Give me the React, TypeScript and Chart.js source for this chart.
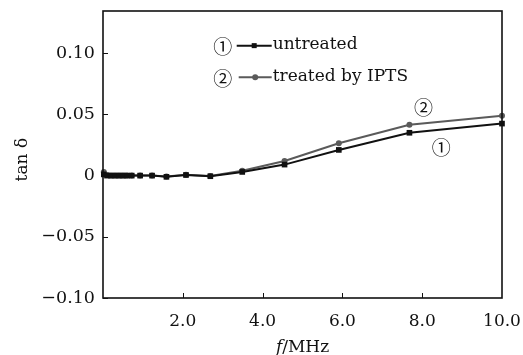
import React, { useEffect, useRef } from "react";
import { Chart, registerables } from "chart.js";

Chart.register(...registerables);

const freqs = [0.02, 0.1, 0.2, 0.3, 0.4, 0.5, 0.6, 0.72, 0.93, 1.23, 1.59, 2.08, 2.69, 3.49, 4.55, 5.91, 7.68, 10.0];
const untreated = [0.001, 0, 0, 0, 0, 0, 0, 0, 0, 0, -0.001, 0.0005, -0.0005, 0.003, 0.009, 0.021, 0.035, 0.0425];
const treated = [0.003, 0.0005, 0, 0, 0, 0, 0, 0, 0, 0, -0.0008, 0.0008, -0.0003, 0.004, 0.012, 0.0265, 0.0415, 0.049];
const xTicks = [2, 4, 6, 8, 10];
const yTicks = [-0.1, -0.05, 0, 0.05, 0.1];
const seriesNames = ["untreated", "treated by IPTS"];
const seriesMarks = ["①", "②"];

const FONT = "'DejaVu Serif', 'Liberation Serif', serif";
const CIRC_FONT = "'Noto Sans CJK SC', 'DejaVu Sans', serif";
const C1 = "#111111";
const C2 = "#5a5a5a";

const fmtY = (v: number) => {
  if (Math.abs(v) < 1e-9) return "0";
  const s = Math.abs(v).toFixed(2);
  return v < 0 ? "\u2212" + s : s;
};

const decorPlugin = {
  id: "decor",
  afterDraw(chart: any) {
    const { ctx, chartArea: a, scales } = chart;
    const xs = scales.x;
    const ys = scales.y;
    ctx.save();
    // frame
    ctx.strokeStyle = "#111";
    ctx.lineWidth = 1.6;
    ctx.strokeRect(a.left, a.top, a.right - a.left, a.bottom - a.top);
    // inside ticks
    ctx.lineWidth = 1;
    ctx.beginPath();
    yTicks.forEach((v) => {
      const y = Math.round(ys.getPixelForValue(v)) + 0.5;
      ctx.moveTo(a.left, y);
      ctx.lineTo(a.left + 5, y);
    });
    xTicks.forEach((v) => {
      if (v >= 10) return;
      const x = Math.round(xs.getPixelForValue(v)) + 0.5;
      ctx.moveTo(x, a.bottom);
      ctx.lineTo(x, a.bottom - 5);
    });
    ctx.stroke();

    // legend
    const rows = [
      { y: ys.getPixelForValue(0.1062), color: C1, style: "rect" },
      { y: ys.getPixelForValue(0.0803), color: C2, style: "circle" },
    ];
    const lx = xs.getPixelForValue(3.0);
    rows.forEach((r, i) => {
      ctx.fillStyle = "#111";
      ctx.font = `19px ${CIRC_FONT}`;
      ctx.textBaseline = "middle";
      ctx.textAlign = "center";
      ctx.fillText(seriesMarks[i], lx, r.y + 1);
      const l0 = lx + 14 + (i === 1 ? 2 : 0);
      const l1 = lx + 49;
      ctx.strokeStyle = r.color;
      ctx.lineWidth = 2;
      ctx.beginPath();
      ctx.moveTo(l0, r.y);
      ctx.lineTo(l1, r.y);
      ctx.stroke();
      ctx.fillStyle = r.color;
      const mx = (l0 + l1) / 2;
      if (r.style === "rect") {
        ctx.fillRect(mx - 2.5, r.y - 2.5, 5, 5);
      } else {
        ctx.beginPath();
        ctx.arc(mx, r.y, 3, 0, Math.PI * 2);
        ctx.fill();
      }
      ctx.fillStyle = "#111";
      ctx.font = `17px ${FONT}`;
      ctx.textAlign = "left";
      ctx.fillText(seriesNames[i], l1 + 1, r.y - 1);
    });

    // curve annotations
    ctx.font = `19px ${CIRC_FONT}`;
    ctx.textAlign = "center";
    ctx.textBaseline = "middle";
    ctx.fillStyle = "#111";
    ctx.fillText(seriesMarks[1], xs.getPixelForValue(8.03), ys.getPixelForValue(0.0564) + 1);
    ctx.fillText(seriesMarks[0], xs.getPixelForValue(8.48), ys.getPixelForValue(0.0237) + 1);

    // axis titles
    ctx.textBaseline = "alphabetic";
    ctx.font = `italic 17px ${FONT}`;
    const w1 = ctx.measureText("f").width;
    ctx.font = `17px ${FONT}`;
    const w2 = ctx.measureText("/MHz").width;
    const cx = (a.left + a.right) / 2;
    const start = cx - (w1 + w2) / 2;
    ctx.textAlign = "left";
    ctx.font = `italic 17px ${FONT}`;
    ctx.fillText("f", start, 352);
    ctx.font = `17px ${FONT}`;
    ctx.fillText("/MHz", start + w1, 352);

    ctx.save();
    ctx.translate(27, ys.getPixelForValue(0) - 16);
    ctx.rotate(-Math.PI / 2);
    ctx.textAlign = "center";
    ctx.textBaseline = "alphabetic";
    ctx.font = `17px ${FONT}`;
    ctx.fillText("tan \u03b4", 0, 0);
    ctx.restore();

    ctx.restore();
  },
};

export default function App() {
  const ref = useRef<HTMLCanvasElement | null>(null);
  useEffect(() => {
    document.body.style.margin = "0";
    const canvas = ref.current;
    if (!canvas) return;
    const chart = new Chart(canvas, {
      type: "line",
      data: {
        datasets: [
          {
            label: seriesNames[0],
            data: freqs.map((f, i) => ({ x: f, y: untreated[i] })),
            borderColor: C1,
            backgroundColor: C1,
            borderWidth: 2,
            pointStyle: "rect",
            pointRadius: 4,
            pointBorderWidth: 0,
            clip: false,
          },
          {
            label: seriesNames[1],
            data: freqs.map((f, i) => ({ x: f, y: treated[i] })),
            borderColor: C2,
            backgroundColor: C2,
            borderWidth: 2,
            pointStyle: "circle",
            pointRadius: 3,
            pointBorderWidth: 0,
            clip: false,
          },
        ],
      },
      options: {
        animation: false,
        responsive: false,
        devicePixelRatio: 1,
        layout: { padding: { left: 0, right: 21, top: 11, bottom: 0 } },
        plugins: { legend: { display: false }, tooltip: { enabled: false } },
        scales: {
          x: {
            type: "linear",
            min: 0,
            max: 10,
            afterBuildTicks: (s: any) => {
              s.ticks = xTicks.map((v) => ({ value: v }));
            },
            afterFit: (s: any) => {
              s.height = 57;
              s.paddingLeft = 0;
              s.paddingRight = 0;
              s.paddingTop = 0;
              s.paddingBottom = 0;
            },
            grid: { display: false, drawTicks: false },
            border: { display: false },
            ticks: {
              padding: 13,
              color: "#111",
              font: { family: FONT, size: 17 },
              maxRotation: 0,
              callback: (v: any) => Number(v).toFixed(1),
            },
          },
          y: {
            type: "linear",
            min: -0.1,
            max: 0.1345,
            afterBuildTicks: (s: any) => {
              s.ticks = yTicks.map((v) => ({ value: v }));
            },
            afterFit: (s: any) => {
              s.width = 103;
              s.paddingLeft = 0;
              s.paddingRight = 0;
              s.paddingTop = 0;
              s.paddingBottom = 0;
            },
            grid: { display: false, drawTicks: false },
            border: { display: false },
            ticks: {
              padding: 8,
              color: "#111",
              font: { family: FONT, size: 17.5 },
              callback: (v: any) => fmtY(Number(v)),
            },
          },
        },
      },
      plugins: [decorPlugin],
    } as any);
    return () => chart.destroy();
  }, []);
  return (
    <div style={{ width: 523, height: 355 }}>
      <canvas ref={ref} width={523} height={355} style={{ display: "block" }} />
    </div>
  );
}
